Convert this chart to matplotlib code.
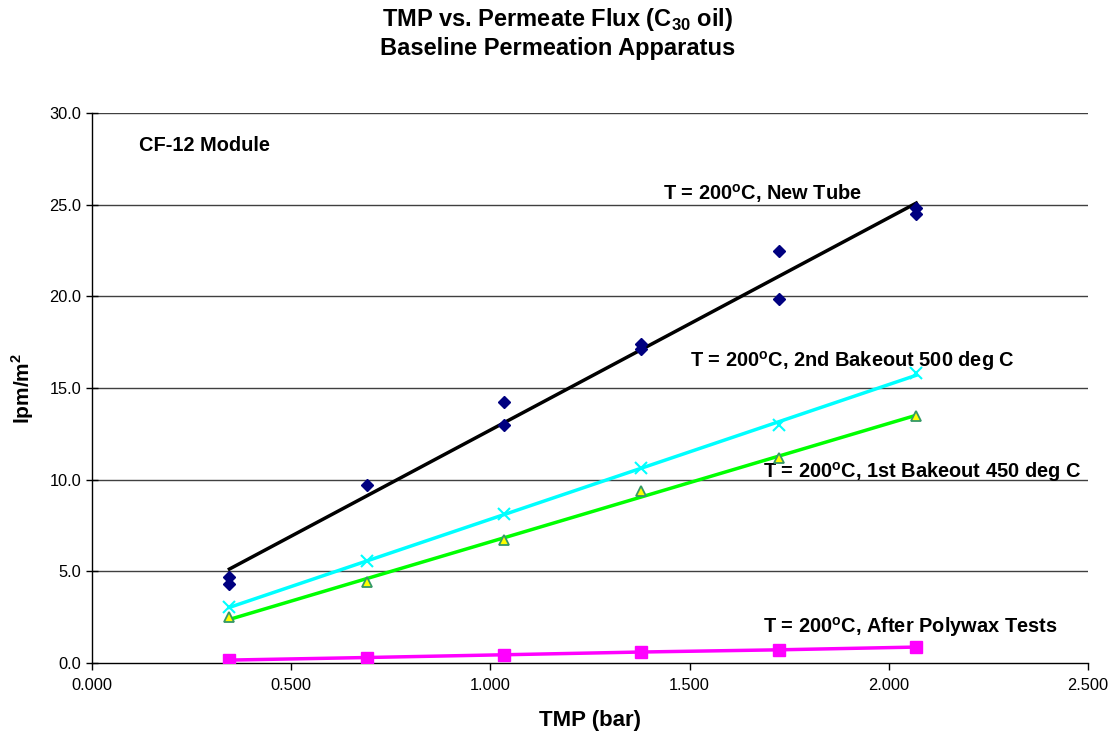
import matplotlib
matplotlib.use("Agg")
import matplotlib.pyplot as plt
import numpy as np

plt.rcParams['font.family'] = ['Liberation Sans', 'DejaVu Sans']

# Transmembrane pressure settings (bar)
tmp = [0.345, 0.690, 1.034, 1.379, 1.724, 2.069]

# New tube: duplicate measurements at each pressure
tmp_new = [0.345, 0.345, 0.690, 1.034, 1.034, 1.379, 1.379, 1.724, 1.724, 2.069, 2.069]
flux_new = [4.69, 4.31, 9.71, 14.24, 12.98, 17.40, 17.13, 22.48, 19.86, 24.82, 24.50]

flux_bake2 = [3.05, 5.56, 8.13, 10.64, 12.98, 15.82]
flux_bake1 = [2.50, 4.40, 6.70, 9.40, 11.20, 13.47]
flux_polywax = [0.16, 0.30, 0.45, 0.60, 0.72, 0.87]

label_new = "T = 200$^{\\mathregular{o}}$C, New Tube"
label_bake2 = "T = 200$^{\\mathregular{o}}$C, 2nd Bakeout 500 deg C"
label_bake1 = "T = 200$^{\\mathregular{o}}$C, 1st Bakeout 450 deg C"
label_poly = "T = 200$^{\\mathregular{o}}$C, After Polywax Tests"

x_ticks = [0.0, 0.5, 1.0, 1.5, 2.0, 2.5]
y_ticks = [0, 5, 10, 15, 20, 25, 30]

fig = plt.figure(figsize=(11.16, 7.38), dpi=100)
ax = fig.add_axes([0.0824, 0.1016, 0.8925, 0.7453])


def linfit(x, y):
    k, b = np.polyfit(x, y, 1)
    xs = np.array([min(x), max(x)])
    return xs, k * xs + b


# Gridlines
for yv in y_ticks[1:]:
    ax.axhline(yv, color='#404040', lw=1.0, zorder=1)

# New tube: scatter with linear trendline
xs, ys = linfit(tmp_new, flux_new)
ax.plot(xs, ys, color='black', lw=2.5, zorder=3)
ax.plot(tmp_new, flux_new, linestyle='none', marker='D', markersize=6.5,
        color='#000080', zorder=4)

# 2nd bakeout
xs, ys = linfit(tmp, flux_bake2)
ax.plot(xs, ys, color='#00FFFF', lw=2.5, zorder=3)
ax.plot(tmp, flux_bake2, linestyle='none', marker='x', markersize=8,
        markeredgewidth=1.5, color='#00FFFF', zorder=4)

# 1st bakeout
xs, ys = linfit(tmp, flux_bake1)
ax.plot(xs, ys, color='#00FF00', lw=2.5, zorder=3)
ax.plot(tmp, flux_bake1, linestyle='none', marker='^', markersize=7.5,
        markerfacecolor='#FFFF00', markeredgecolor='#339966',
        markeredgewidth=1.3, zorder=4)

# After polywax tests
ax.plot(tmp, flux_polywax, color='#FF00FF', lw=2.5, marker='s',
        markersize=8, zorder=4)

ax.set_xlim(0, 2.5)
ax.set_ylim(0, 30)
ax.set_xticks(x_ticks)
ax.set_xticklabels([f"{v:.3f}" for v in x_ticks])
ax.set_yticks(y_ticks)
ax.set_yticklabels([f"{v:.1f}" for v in y_ticks])
ax.tick_params(axis='both', labelsize=11.8, colors='black', width=1)
ax.tick_params(axis='x', direction='out', length=5, pad=6)
ax.tick_params(axis='y', direction='inout', length=9, pad=3)

for s in ['top', 'right']:
    ax.spines[s].set_visible(False)
for s in ['left', 'bottom']:
    ax.spines[s].set_color('black')
    ax.spines[s].set_linewidth(1.0)

ax.set_xlabel('TMP (bar)', fontsize=16, fontweight='bold', labelpad=12)
ax.set_ylabel('lpm/m$^{\\mathregular{2}}$', fontsize=15, fontweight='bold', labelpad=10)

fig.text(0.5, 0.974, 'TMP vs. Permeate Flux (C$_{\\mathregular{30}}$ oil)',
         ha='center', va='center', fontsize=17, fontweight='bold')
fig.text(0.5, 0.934, 'Baseline Permeation Apparatus',
         ha='center', va='center', fontsize=17, fontweight='bold')

# Annotations
ax.text(0.118, 28.2, 'CF-12 Module', fontsize=14.4, fontweight='bold', va='center')
ax.text(1.433, 25.6, label_new, fontsize=14.4, fontweight='bold', va='center')
ax.text(1.502, 16.5, label_bake2, fontsize=14.4, fontweight='bold', va='center')
ax.text(1.685, 10.4, label_bake1, fontsize=14.4, fontweight='bold', va='center')
ax.text(1.685, 1.95, label_poly, fontsize=14.4, fontweight='bold', va='center')

fig.savefig('out.png', dpi=100)
